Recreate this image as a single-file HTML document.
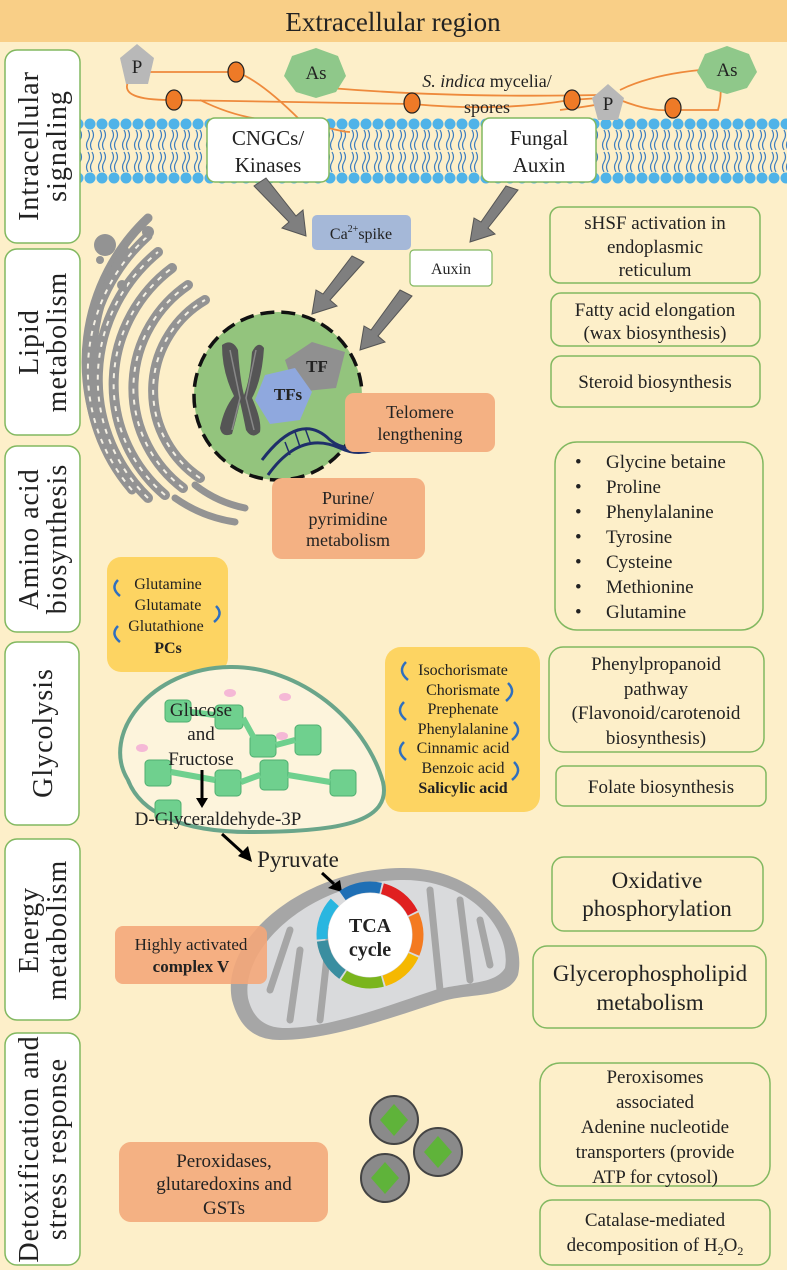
<!DOCTYPE html>
<html><head><meta charset="utf-8"><style>
html,body{margin:0;padding:0;background:#fdefc9}
svg{display:block}
text{font-family:"Liberation Serif",serif;fill:#222}
</style></head><body>
<svg width="787" height="1270" viewBox="0 0 787 1270" xmlns="http://www.w3.org/2000/svg">
<defs>
<pattern id="mem" x="0" y="118" width="12" height="66" patternUnits="userSpaceOnUse">
<circle cx="6" cy="6" r="5.5" fill="#4fb3e8"/>
<circle cx="6" cy="60" r="5.5" fill="#4fb3e8"/>
<path d="M4 12 q3 5 0 10 q-3 5 0 10 M8 12 q3 5 0 10 q-3 5 0 10 M4 34 q3 5 0 10 q-3 5 0 10 M8 34 q3 5 0 10 q-3 5 0 10" stroke="#3a7cc0" stroke-width="1.2" fill="none"/>
</pattern>
</defs>
<rect width="787" height="1270" fill="#fdefc9"/>
<rect x="0" y="0" width="787" height="42" fill="#f9cf87"/>
<text x="393" y="31" font-size="27" text-anchor="middle">Extracellular region</text>

<rect x="80" y="118" width="707" height="66" fill="url(#mem)"/>

<g stroke="#ee8a3c" stroke-width="1.8" fill="none">
<path d="M150 72 L236 72 Q260 80 300 120 Q340 132 350 132"/>
<path d="M128 82 Q120 100 170 100 L412 104 Q500 112 570 100 L600 98"/>
<path d="M330 88 Q450 98 600 95"/>
<path d="M300 120 Q250 125 200 100"/>
<path d="M560 110 Q600 105 620 100 Q650 112 672 110 L718 110 Q722 95 720 85"/>
<path d="M620 90 Q650 75 700 70"/>
</g>
<g fill="#ee7a27" stroke="#222" stroke-width="1.2">
<ellipse cx="236" cy="72" rx="8" ry="10"/><ellipse cx="174" cy="100" rx="8" ry="10"/>
<ellipse cx="412" cy="103" rx="8" ry="10"/><ellipse cx="572" cy="100" rx="8" ry="10"/>
<ellipse cx="673" cy="108" rx="8" ry="10"/>
</g>
<polygon points="137,44 154,58 148,84 126,84 120,58" fill="#b8b8b8"/>
<text x="137" y="73" font-size="19" text-anchor="middle">P</text>
<polygon points="608,84 624,98 618,120 598,120 592,98" fill="#b8b8b8"/>
<text x="608" y="110" font-size="19" text-anchor="middle">P</text>
<polygon points="316,48 338,56 346,76 336,92 316,98 296,92 284,76 292,56" fill="#8fc88a"/>
<text x="316" y="79" font-size="19" text-anchor="middle">As</text>
<polygon points="727,46 749,54 757,72 747,88 727,94 707,88 697,72 705,54" fill="#8fc88a"/>
<text x="727" y="76" font-size="19" text-anchor="middle">As</text>
<text x="487" y="87" font-size="18" text-anchor="middle"><tspan font-style="italic">S. indica</tspan> mycelia/</text>
<text x="487" y="113" font-size="18" text-anchor="middle">spores</text>

<rect x="207" y="118" width="122" height="64" rx="8" fill="#fff" stroke="#82b860" stroke-width="1.5"/>
<text x="268" y="145" font-size="21" text-anchor="middle">CNGCs/</text>
<text x="268" y="172" font-size="21" text-anchor="middle">Kinases</text>
<rect x="482" y="118" width="114" height="64" rx="8" fill="#fff" stroke="#82b860" stroke-width="1.5"/>
<text x="539" y="145" font-size="21" text-anchor="middle">Fungal</text>
<text x="539" y="172" font-size="21" text-anchor="middle">Auxin</text>

<g fill="#fff" stroke="#82b860" stroke-width="1.5">
<rect x="5" y="50" width="75" height="193" rx="12"/>
<rect x="5" y="249" width="75" height="186" rx="12"/>
<rect x="5" y="446" width="75" height="186" rx="12"/>
<rect x="5" y="642" width="74" height="183" rx="12"/>
<rect x="5" y="839" width="75" height="181" rx="12"/>
<rect x="5" y="1033" width="75" height="232" rx="12"/>
</g>
<g font-size="28" text-anchor="middle" letter-spacing="1">
<text transform="translate(42,146) rotate(-90)"><tspan x="0" y="-4">Intracellular</tspan><tspan x="0" y="24">signaling</tspan></text>
<text transform="translate(42,342) rotate(-90)"><tspan x="0" y="-4">Lipid</tspan><tspan x="0" y="24">metabolism</tspan></text>
<text transform="translate(42,539) rotate(-90)"><tspan x="0" y="-4">Amino acid</tspan><tspan x="0" y="24">biosynthesis</tspan></text>
<text transform="translate(42,733) rotate(-90)"><tspan x="0" y="10">Glycolysis</tspan></text>
<text transform="translate(42,930) rotate(-90)"><tspan x="0" y="-4">Energy</tspan><tspan x="0" y="24">metabolism</tspan></text>
<text transform="translate(42,1149) rotate(-90)"><tspan x="0" y="-4">Detoxification and</tspan><tspan x="0" y="24">stress response</tspan></text>
</g>

<g fill="#7f7f7f" stroke="#555" stroke-width="1">
<polygon points="254,186 266,178 296,216 303,210 306,236 282,228 289,222"/>
<polygon points="506,186 518,190 488,228 495,234 470,242 474,218 481,222"/>
<polygon points="352,256 364,262 330,300 337,306 312,314 316,290 323,294"/>
<polygon points="400,290 412,296 378,336 385,342 360,350 364,326 371,330"/>
</g>
<rect x="312" y="215" width="99" height="35" rx="5" fill="#a5b8d8"/>
<text x="361" y="239" font-size="16" text-anchor="middle">Ca<tspan font-size="10" dy="-7">2+</tspan><tspan dy="7">spike</tspan></text>
<rect x="410" y="250" width="82" height="36" rx="4" fill="#fff" stroke="#82b860" stroke-width="1.2"/>
<text x="451" y="274" font-size="16" text-anchor="middle">Auxin</text>

<!-- golgi/ER -->
<g fill="none" stroke="#939393" stroke-linecap="round">
<path d="M200 478 A105 105 0 0 1 205 300" stroke-width="10"/>
<path d="M183 488 A125 125 0 0 1 188 285" stroke-width="10"/>
<path d="M165 495 A145 145 0 0 1 172 268" stroke-width="10"/>
<path d="M148 498 A165 165 0 0 1 158 252" stroke-width="10"/>
<path d="M132 490 A182 182 0 0 1 148 236" stroke-width="9"/>
<path d="M117 468 A198 198 0 0 1 148 218" stroke-width="9"/>
<path d="M104 430 A212 212 0 0 1 125 250" stroke-width="8"/>
<path d="M195 485 A120 120 0 0 0 245 508" stroke-width="7"/>
<path d="M175 498 A140 140 0 0 0 235 522" stroke-width="7"/>
</g>
<g fill="none" stroke="#f4f0e4" stroke-width="2" stroke-dasharray="5 6">
<path d="M200 478 A105 105 0 0 1 205 300"/>
<path d="M183 488 A125 125 0 0 1 188 285"/>
<path d="M165 495 A145 145 0 0 1 172 268"/>
<path d="M148 498 A165 165 0 0 1 158 252"/>
<path d="M132 490 A182 182 0 0 1 148 236"/>
</g>
<g fill="#939393"><circle cx="105" cy="245" r="11"/><circle cx="148" cy="232" r="6"/><circle cx="122" cy="285" r="5"/><circle cx="100" cy="260" r="4"/></g>

<!-- nucleus -->
<circle cx="278" cy="396" r="84" fill="#93c47d" stroke="#111" stroke-width="3.5" stroke-dasharray="14 7"/>
<g fill="#555"><path d="M222 345 Q232 338 238 350 Q240 380 244 395 Q250 380 252 352 Q258 340 264 348 Q262 380 252 398 Q262 420 260 432 Q252 440 246 430 Q242 410 240 402 Q236 420 232 434 Q222 438 220 428 Q224 408 234 396 Q222 372 222 345Z"/></g>
<path d="M230 350 L240 398 L232 430 M256 350 L246 398 L254 430" stroke="#888" stroke-width="1.5" fill="none"/>
<polygon points="285,360 312,342 345,352 336,388 296,392" fill="#909090"/>
<polygon points="265,375 295,368 312,392 300,420 270,424 255,400" fill="#8fa8de"/>
<text x="317" y="372" font-size="17" font-weight="bold" text-anchor="middle">TF</text>
<text x="288" y="400" font-size="17" font-weight="bold" text-anchor="middle" fill="#1f3864">TFs</text>
<path d="M262 460 Q300 410 330 440 Q355 460 380 425 M268 475 Q300 430 340 448 Q365 460 390 440" fill="none" stroke="#1f2f6a" stroke-width="3"/>
<g stroke="#1f2f6a" stroke-width="1.5"><line x1="285" y1="442" x2="290" y2="455"/><line x1="295" y1="432" x2="300" y2="447"/><line x1="305" y1="428" x2="310" y2="442"/></g>

<rect x="345" y="393" width="150" height="59" rx="9" fill="#f4b183"/>
<text x="420" y="418" font-size="18" text-anchor="middle">Telomere</text>
<text x="420" y="440" font-size="18" text-anchor="middle">lengthening</text>
<rect x="272" y="478" width="153" height="81" rx="10" fill="#f4b183"/>
<text x="348" y="504" font-size="18" text-anchor="middle">Purine/</text>
<text x="348" y="525" font-size="18" text-anchor="middle">pyrimidine</text>
<text x="348" y="546" font-size="18" text-anchor="middle">metabolism</text>

<g fill="none" stroke="#82b860" stroke-width="1.5">
<rect x="550" y="207" width="210" height="76" rx="10"/>
<rect x="551" y="293" width="209" height="53" rx="10"/>
<rect x="551" y="356" width="209" height="51" rx="10"/>
<rect x="555" y="442" width="208" height="188" rx="22"/>
<rect x="549" y="647" width="215" height="105" rx="14"/>
<rect x="556" y="766" width="210" height="40" rx="8"/>
<rect x="552" y="857" width="211" height="74" rx="12"/>
<rect x="533" y="946" width="233" height="82" rx="14"/>
<rect x="540" y="1063" width="230" height="123" rx="20"/>
<rect x="540" y="1200" width="230" height="65" rx="12"/>
</g>
<g font-size="19" text-anchor="middle">
<text x="655" y="229">sHSF activation in</text>
<text x="655" y="253">endoplasmic</text>
<text x="655" y="276">reticulum</text>
<text x="655" y="316">Fatty acid elongation</text>
<text x="655" y="339">(wax biosynthesis)</text>
<text x="655" y="388">Steroid biosynthesis</text>
<text x="656" y="670">Phenylpropanoid</text>
<text x="656" y="695">pathway</text>
<text x="656" y="719">(Flavonoid/carotenoid</text>
<text x="656" y="744">biosynthesis)</text>
<text x="661" y="793">Folate biosynthesis</text>
<text x="655" y="1083">Peroxisomes</text>
<text x="655" y="1108">associated</text>
<text x="655" y="1133">Adenine nucleotide</text>
<text x="655" y="1158">transporters (provide</text>
<text x="655" y="1183">ATP for cytosol)</text>
<text x="655" y="1226">Catalase-mediated</text>
<text x="655" y="1251">decomposition of H<tspan font-size="12" dy="4">2</tspan><tspan dy="-4">O</tspan><tspan font-size="12" dy="4">2</tspan></text>
</g>
<g font-size="23" text-anchor="middle">
<text x="657" y="888">Oxidative</text>
<text x="657" y="916">phosphorylation</text>
<text x="650" y="981">Glycerophospholipid</text>
<text x="650" y="1010">metabolism</text>
</g>
<g font-size="19">
<text x="575" y="468">•</text><text x="606" y="468">Glycine betaine</text>
<text x="575" y="493">•</text><text x="606" y="493">Proline</text>
<text x="575" y="518">•</text><text x="606" y="518">Phenylalanine</text>
<text x="575" y="543">•</text><text x="606" y="543">Tyrosine</text>
<text x="575" y="568">•</text><text x="606" y="568">Cysteine</text>
<text x="575" y="593">•</text><text x="606" y="593">Methionine</text>
<text x="575" y="618">•</text><text x="606" y="618">Glutamine</text>
</g>

<rect x="107" y="557" width="121" height="115" rx="14" fill="#fdd462"/>
<g font-size="16" text-anchor="middle">
<text x="168" y="589">Glutamine</text>
<text x="168" y="610">Glutamate</text>
<text x="166" y="631">Glutathione</text>
<text x="168" y="653" font-weight="bold">PCs</text>
</g>
<g fill="none" stroke="#2f6fbf" stroke-width="2.5">
<path d="M118 580 q-8 8 2 16"/><path d="M216 606 q8 8 -2 16"/><path d="M118 626 q-8 8 2 16"/>
</g>

<rect x="385" y="647" width="155" height="165" rx="16" fill="#fdd462"/>
<g font-size="16" text-anchor="middle">
<text x="463" y="675">Isochorismate</text>
<text x="463" y="695">Chorismate</text>
<text x="463" y="714">Prephenate</text>
<text x="463" y="734">Phenylalanine</text>
<text x="463" y="753">Cinnamic acid</text>
<text x="463" y="773">Benzoic acid</text>
<text x="463" y="793" font-weight="bold">Salicylic acid</text>
</g>
<g fill="none" stroke="#2f6fbf" stroke-width="2.5">
<path d="M406 662 q-9 9 2 18"/><path d="M508 683 q9 9 -2 18"/><path d="M404 702 q-9 9 2 18"/>
<path d="M514 722 q9 9 -2 18"/><path d="M404 742 q-9 9 2 18"/><path d="M514 762 q9 9 -2 18"/>
</g>

<path d="M128 780 C100 735 150 668 230 667 C300 666 365 720 383 782 C392 822 340 832 250 832 C180 832 140 812 128 780Z" fill="#fdf4dc" stroke="#6aa58a" stroke-width="4"/>
<g fill="#6fd08e" stroke="#4fae70" stroke-width="1">
<rect x="165" y="700" width="26" height="22" rx="4"/><rect x="215" y="705" width="28" height="24" rx="4"/>
<rect x="250" y="735" width="26" height="22" rx="4"/><rect x="295" y="725" width="26" height="30" rx="4"/>
<rect x="145" y="760" width="26" height="26" rx="4"/><rect x="215" y="770" width="26" height="26" rx="4"/>
<rect x="260" y="760" width="28" height="30" rx="4"/><rect x="330" y="770" width="26" height="26" rx="4"/>
<rect x="155" y="800" width="26" height="20" rx="4"/>
<path d="M191 712 L215 715 M243 718 L255 740 M276 745 L295 740 M171 772 L215 780 M241 782 L260 775 M288 775 L330 782" stroke="#6fd08e" stroke-width="6"/>
</g>
<g fill="#f5b8d6"><ellipse cx="230" cy="693" rx="6" ry="4"/><ellipse cx="285" cy="697" rx="6" ry="4"/><ellipse cx="142" cy="748" rx="6" ry="4"/><ellipse cx="282" cy="736" rx="6" ry="4"/></g>
<g font-size="19" text-anchor="middle">
<text x="201" y="716">Glucose</text>
<text x="201" y="740">and</text>
<text x="201" y="765">Fructose</text>
<text x="218" y="825">D-Glyceraldehyde-3P</text>
</g>
<line x1="202" y1="770" x2="202" y2="800" stroke="#000" stroke-width="3"/>
<polygon points="196,798 208,798 202,808" fill="#000"/>
<line x1="222" y1="834" x2="244" y2="854" stroke="#000" stroke-width="3"/>
<polygon points="238,856 248,846 252,862" fill="#000"/>
<text x="298" y="867" font-size="23" text-anchor="middle">Pyruvate</text>

<path d="M232 1000 C220 940 300 870 400 868 C480 866 528 930 518 975 C508 1000 470 992 440 1002 C390 1018 330 1040 280 1040 C250 1040 238 1022 232 1000Z" fill="#a6a6a6"/>
<path d="M248 998 C240 948 310 882 400 880 C470 878 512 930 505 968 C495 985 465 982 435 990 C390 1005 330 1028 285 1028 C262 1028 252 1015 248 998Z" fill="#d9dadc"/>
<g stroke="#a6a6a6" stroke-width="7" fill="none" stroke-linecap="round">
<path d="M290 1020 L300 950"/><path d="M320 1020 L330 930"/><path d="M440 990 L430 890"/><path d="M470 980 L460 900"/><path d="M270 990 L290 930"/><path d="M490 965 L480 920"/>
</g>
<line x1="322" y1="873" x2="334" y2="884" stroke="#000" stroke-width="3"/>
<polygon points="328,888 340,880 342,892" fill="#000"/>
<g fill="none" stroke-width="11">
<circle cx="370" cy="935" r="48" stroke="#1f6fb5" stroke-dasharray="40 262" transform="rotate(-125 370 935)"/>
<circle cx="370" cy="935" r="48" stroke="#e02020" stroke-dasharray="40 262" transform="rotate(-75 370 935)"/>
<circle cx="370" cy="935" r="48" stroke="#f47a20" stroke-dasharray="40 262" transform="rotate(-25 370 935)"/>
<circle cx="370" cy="935" r="48" stroke="#f5b800" stroke-dasharray="40 262" transform="rotate(25 370 935)"/>
<circle cx="370" cy="935" r="48" stroke="#7ab51d" stroke-dasharray="40 262" transform="rotate(75 370 935)"/>
<circle cx="370" cy="935" r="48" stroke="#3a8ea0" stroke-dasharray="40 262" transform="rotate(125 370 935)"/>
<circle cx="370" cy="935" r="48" stroke="#29b6e0" stroke-dasharray="40 262" transform="rotate(175 370 935)"/>
</g>
<circle cx="370" cy="935" r="42" fill="#fff"/>
<text x="370" y="932" font-size="20" font-weight="bold" text-anchor="middle">TCA</text>
<text x="370" y="956" font-size="20" font-weight="bold" text-anchor="middle">cycle</text>
<rect x="115" y="926" width="152" height="58" rx="8" fill="#f4a77a" opacity="0.9"/>
<text x="191" y="950" font-size="17" text-anchor="middle">Highly activated</text>
<text x="191" y="972" font-size="17" font-weight="bold" text-anchor="middle">complex V</text>

<rect x="119" y="1142" width="209" height="80" rx="12" fill="#f4b183"/>
<g font-size="19" text-anchor="middle">
<text x="224" y="1167">Peroxidases,</text>
<text x="224" y="1190">glutaredoxins and</text>
<text x="224" y="1214">GSTs</text>
</g>
<g>
<circle cx="394" cy="1120" r="24" fill="#8a8a8a" stroke="#444" stroke-width="2"/>
<polygon points="394,1104 408,1120 394,1136 380,1120" fill="#5fb33a"/>
<circle cx="438" cy="1152" r="24" fill="#8a8a8a" stroke="#444" stroke-width="2"/>
<polygon points="438,1136 452,1152 438,1168 424,1152" fill="#5fb33a"/>
<circle cx="385" cy="1178" r="24" fill="#8a8a8a" stroke="#444" stroke-width="2"/>
<polygon points="385,1162 399,1178 385,1194 371,1178" fill="#5fb33a"/>
</g>
</svg>
</body></html>
